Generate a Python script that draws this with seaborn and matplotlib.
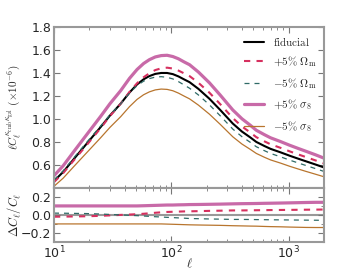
import numpy as np
import matplotlib
matplotlib.use("Agg")
import matplotlib.pyplot as plt
import seaborn as sns

# multipoles
ell = [10, 12, 15, 19, 25, 30, 37, 44, 51, 58, 65, 73, 82, 92, 103, 115, 128,
       143, 170, 211, 260, 334, 400, 470, 530, 620, 700, 850, 1020, 1200, 1400,
       1700, 2000]
# fiducial l*C_l (x1e-6)
fid = [0.46, 0.54, 0.66, 0.785, 0.93, 1.03, 1.133, 1.23, 1.30, 1.345, 1.373,
       1.392, 1.40, 1.40, 1.39, 1.37, 1.345, 1.32, 1.262, 1.176, 1.08, 0.96,
       0.89, 0.84, 0.80, 0.765, 0.74, 0.71, 0.68, 0.655, 0.632, 0.603, 0.578]
# fractional differences wrt fiducial
d_om_p = [-0.02, -0.019, -0.017, -0.015, -0.01, -0.005, 0.0, 0.004, 0.008, 0.013,
          0.018, 0.024, 0.029, 0.033, 0.035, 0.037, 0.039, 0.04, 0.042, 0.045,
          0.047, 0.05, 0.05, 0.051, 0.052, 0.053, 0.054, 0.055, 0.056, 0.057,
          0.058, 0.059, 0.06]
d_om_m = [0.02, 0.019, 0.017, 0.015, 0.01, 0.005, 0.0, -0.004, -0.008, -0.012,
          -0.016, -0.02, -0.023, -0.027, -0.03, -0.033, -0.036, -0.04, -0.042,
          -0.045, -0.047, -0.05, -0.05, -0.051, -0.052, -0.053, -0.054, -0.055,
          -0.056, -0.057, -0.058, -0.059, -0.06]
d_s8_p = [0.10, 0.10, 0.10, 0.10, 0.10, 0.10, 0.10, 0.10, 0.10, 0.102, 0.104,
          0.106, 0.108, 0.11, 0.11, 0.112, 0.113, 0.115, 0.116, 0.118, 0.12,
          0.123, 0.125, 0.126, 0.127, 0.129, 0.13, 0.132, 0.134, 0.136, 0.138,
          0.14, 0.14]
d_s8_m = [-0.10, -0.10, -0.10, -0.10, -0.10, -0.10, -0.10, -0.10, -0.10, -0.10,
          -0.10, -0.10, -0.10, -0.102, -0.104, -0.106, -0.108, -0.11, -0.112,
          -0.114, -0.116, -0.12, -0.122, -0.124, -0.125, -0.128, -0.13, -0.132,
          -0.135, -0.137, -0.139, -0.14, -0.14]

labels = [r'$\mathrm{fiducial}$', r'$+5\%\ \Omega_{\rm m}$', r'$-5\%\ \Omega_{\rm m}$',
          r'$+5\%\ \sigma_8$', r'$-5\%\ \sigma_8$']

sns.set_style("ticks")
plt.rcParams['mathtext.fontset'] = 'cm'
plt.rcParams['font.family'] = ['DejaVu Sans']

fig = plt.figure(figsize=(3.6, 2.7), dpi=100)
ax1 = fig.add_axes([0.15, 0.304, 0.75, 0.596])
ax2 = fig.add_axes([0.15, 0.104, 0.75, 0.2], sharex=ax1)

fid_a = np.array(fid)
styles = [
    (None, 'black', '-', 1.5),
    (d_om_p, '#d6305f', (0, (3, 3)), 1.5),
    (d_om_m, '#2e6a66', (0, (4, 4)), 0.9),
    (d_s8_p, '#c86aa8', '-', 2.3),
    (d_s8_m, '#b8752e', '-', 0.9),
]
for (d, c, ls, lw), lab in zip(styles, labels):
    y = fid_a if d is None else fid_a * (1 + np.array(d))
    sns.lineplot(x=ell, y=y, ax=ax1, color=c, linestyle=ls, lw=lw, label=lab)
    if d is not None:
        sns.lineplot(x=ell, y=d, ax=ax2, color=c, linestyle=ls, lw=lw, legend=False)
ax2.axhline(0, color='#999999', lw=1.5, zorder=0)

ax1.set_xscale('log')
ax1.set_xlim(10, 2000)
ax1.set_ylim(0.4, 1.8)
ax1.set_yticks([0.6, 0.8, 1.0, 1.2, 1.4, 1.6, 1.8])
ax2.set_ylim(-0.3, 0.3)
ax2.set_yticks([-0.2, 0.0, 0.2])
ax2.set_yticks([-0.3, -0.1, 0.1, 0.3], minor=True)

for ax in (ax1, ax2):
    for s in ax.spines.values():
        s.set_color('#999999')
        s.set_linewidth(1.5)
    ax.tick_params(which='both', direction='in', top=True, right=True,
                   color='#777777', labelsize=9, pad=2)
    ax.tick_params(which='major', length=4)
    ax.tick_params(which='minor', length=2)
plt.setp(ax1.get_xticklabels(), visible=False)

ax1.set_ylabel(r'$\ell C_\ell^{\kappa_{\rm cmb}\kappa_{\rm gal}}\ (\times 10^{-6})$', fontsize=8)
ax2.set_ylabel(r'$\Delta C_\ell / C_\ell$', fontsize=9)
ax2.set_xlabel(r'$\ell$', fontsize=9, labelpad=-3)
ax1.yaxis.set_label_coords(-0.115, 0.5)
ax2.yaxis.set_label_coords(-0.115, 0.5)

ax1.legend(loc='upper right', frameon=False, fontsize=8, handlelength=1.8,
           labelspacing=0.6, borderaxespad=0.3)

fig.savefig('out.png', dpi=100)
